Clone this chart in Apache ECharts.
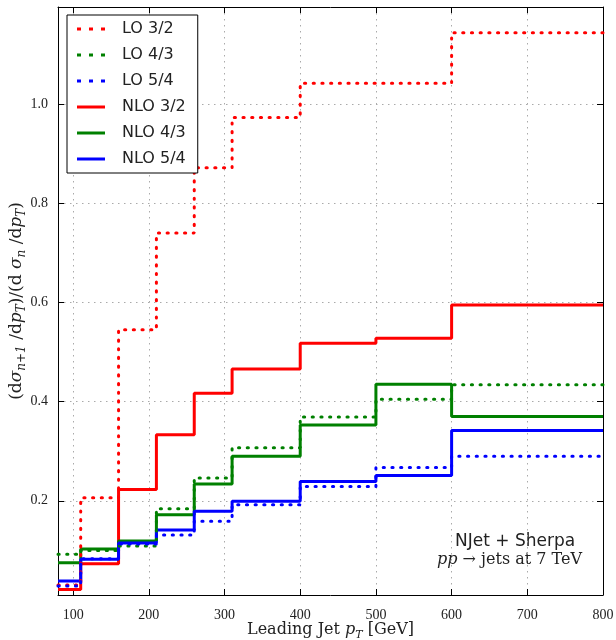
<!DOCTYPE html>
<html>
<head>
<meta charset="utf-8">
<script src="https://cdn.jsdelivr.net/npm/echarts@6/dist/echarts.min.js"></script>
<style>
  html, body { margin: 0; padding: 0; background: #fff; }
  #chart { width: 616px; height: 640px; }
</style>
</head>
<body>
<div id="chart"></div>
<script>
// bin edges of leading jet pT [GeV]
var edges = [80, 110, 160, 210, 260, 310, 400, 500, 600, 800];
// ratio per bin
var lo32 = [0.030, 0.206, 0.545, 0.740, 0.872, 0.973, 1.042, 1.042, 1.144];
var lo43 = [0.092, 0.100, 0.109, 0.184, 0.246, 0.307, 0.369, 0.405, 0.434];
var lo54 = [0.028, 0.083, 0.113, 0.131, 0.159, 0.192, 0.229, 0.267, 0.290];
var nlo32 = [0.021, 0.073, 0.223, 0.333, 0.417, 0.466, 0.518, 0.528, 0.595];
var nlo43 = [0.075, 0.103, 0.119, 0.172, 0.234, 0.290, 0.353, 0.435, 0.370];
var nlo54 = [0.038, 0.082, 0.115, 0.141, 0.179, 0.199, 0.239, 0.251, 0.342];
var xTicks = [100, 200, 300, 400, 500, 600, 700, 800];
var yTicks = [0.2, 0.4, 0.6, 0.8, 1.0];

function stepData(vals) {
  var d = [];
  for (var i = 0; i < vals.length; i++) {
    d.push([edges[i], vals[i]]);
  }
  d.push([edges[edges.length - 1], vals[vals.length - 1]]);
  return d;
}

function mkSeries(name, vals, color, dotted) {
  return {
    name: name,
    type: 'line',
    step: 'end',
    symbol: 'none',
    showSymbol: false,
    data: stepData(vals),
    lineStyle: {
      color: color,
      width: 3,
      type: dotted ? [1.2, 7.5] : 'solid',
      cap: dotted ? 'round' : 'butt'
    },
    itemStyle: { color: color },
    z: dotted ? 3 : 2
  };
}

var serif = '"Liberation Serif", "DejaVu Serif", serif';
var wideSerif = '"DejaVu Serif", serif';
var sans = '"DejaVu Sans", sans-serif';
var gridDots = { show: true, lineStyle: { color: '#aaa', type: [1.5, 4.5], width: 1 } };
// legend icons: three dots or a plain bar
var dotIcon = 'path://M0,0h4v3h-4z M12,0h4v3h-4z M24,0h4v3h-4z';
var barIcon = 'path://M0,0h28v3h-28z';

var chart = echarts.init(document.getElementById('chart'));
var option = {
  animation: false,
  backgroundColor: '#fff',
  grid: { left: 58, right: 13, top: 7, bottom: 45, outerBoundsMode: 'none', containLabel: false },
  legend: {
    orient: 'vertical',
    left: 67,
    top: 15,
    padding: [5, 12, 5, 10],
    itemWidth: 28,
    itemHeight: 3,
    itemGap: 8,
    backgroundColor: '#fff',
    borderColor: '#000',
    borderWidth: 1,
    borderRadius: 0,
    textStyle: { fontFamily: sans, fontSize: 16, color: '#222', lineHeight: 18, padding: [0, 0, 0, 12] },
    data: [
      { name: 'LO 3/2', icon: dotIcon },
      { name: 'LO 4/3', icon: dotIcon },
      { name: 'LO 5/4', icon: dotIcon },
      { name: 'NLO 3/2', icon: barIcon },
      { name: 'NLO 4/3', icon: barIcon },
      { name: 'NLO 5/4', icon: barIcon }
    ]
  },
  xAxis: [{
    type: 'value',
    min: 80,
    max: 800,
    name: '{t|Leading Jet }{it|p}{sub|T}{t| [GeV]}',
    nameLocation: 'middle',
    nameGap: 24,
    nameMoveOverlap: false,
    nameTextStyle: {
      rich: {
        t: { fontFamily: wideSerif, fontSize: 16, color: '#222', lineHeight: 22 },
        it: { fontFamily: wideSerif, fontSize: 16, fontStyle: 'italic', color: '#222', lineHeight: 22 },
        sub: { fontFamily: wideSerif, fontSize: 11, fontStyle: 'italic', color: '#222', verticalAlign: 'bottom', lineHeight: 22 }
      }
    },
    axisLine: { lineStyle: { color: '#000', width: 1 } },
    axisTick: { inside: true, length: 6, customValues: xTicks, lineStyle: { color: '#000' } },
    axisLabel: { customValues: xTicks, margin: 13, fontFamily: serif, fontSize: 14, color: '#222' },
    splitLine: gridDots
  }, {
    type: 'value',
    position: 'top',
    min: 80,
    max: 800,
    axisLine: { show: true, lineStyle: { color: '#000', width: 1 } },
    axisTick: { inside: true, length: 6, customValues: xTicks, lineStyle: { color: '#000' } },
    axisLabel: { show: false },
    splitLine: { show: false }
  }],
  yAxis: [{
    type: 'value',
    min: 0.01,
    max: 1.196,
    name: '{t|(d}{it|σ}{sub|n+1}{t| /d}{it|p}{sub|T}{t|)/(d }{it|σ}{sub|n}{t| /d}{it|p}{sub|T}{t|)}',
    nameLocation: 'middle',
    nameRotate: 90,
    nameGap: 30,
    nameMoveOverlap: false,
    nameTextStyle: {
      rich: {
        t: { fontFamily: wideSerif, fontSize: 17, color: '#222', lineHeight: 22 },
        it: { fontFamily: wideSerif, fontSize: 17, fontStyle: 'italic', color: '#222', lineHeight: 22 },
        sub: { fontFamily: wideSerif, fontSize: 12, fontStyle: 'italic', color: '#222', verticalAlign: 'bottom', lineHeight: 22 }
      }
    },
    axisLine: { show: true, lineStyle: { color: '#000', width: 1 } },
    axisTick: { show: true, inside: true, length: 6, customValues: yTicks, lineStyle: { color: '#000' } },
    axisLabel: {
      customValues: yTicks,
      margin: 10,
      fontFamily: serif,
      fontSize: 14,
      color: '#222',
      formatter: function (v) { return v.toFixed(1); }
    },
    splitLine: gridDots
  }, {
    type: 'value',
    position: 'right',
    min: 0.01,
    max: 1.196,
    axisLine: { show: true, lineStyle: { color: '#000', width: 1 } },
    axisTick: { show: true, inside: true, length: 6, customValues: yTicks, lineStyle: { color: '#000' } },
    axisLabel: { show: false },
    splitLine: { show: false }
  }],
  graphic: [{
    type: 'text',
    left: 455,
    top: 533,
    style: { text: 'NJet + Sherpa', font: '17px "DejaVu Sans"', fill: '#222' }
  }, {
    type: 'text',
    left: 437,
    top: 552,
    style: {
      text: '{it|pp}{t| → jets at 7 TeV}',
      rich: {
        it: { fontFamily: wideSerif, fontSize: 16, fontStyle: 'italic', fill: '#222' },
        t: { fontFamily: wideSerif, fontSize: 16, fill: '#222' }
      }
    }
  }],
  series: [
    mkSeries('NLO 3/2', nlo32, '#ff0000', false),
    mkSeries('NLO 4/3', nlo43, '#008000', false),
    mkSeries('NLO 5/4', nlo54, '#0000ff', false),
    mkSeries('LO 3/2', lo32, '#ff0000', true),
    mkSeries('LO 4/3', lo43, '#008000', true),
    mkSeries('LO 5/4', lo54, '#0000ff', true)
  ]
};
chart.setOption(option);
</script>
</body>
</html>
